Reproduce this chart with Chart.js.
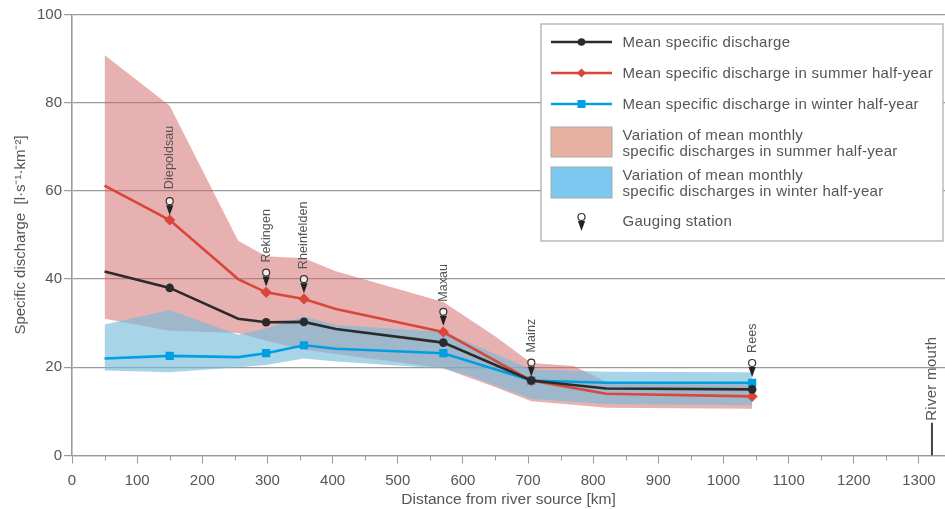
<!DOCTYPE html>
<html><head><meta charset="utf-8">
<style>html,body{margin:0;padding:0;background:#fff}#w{width:945px;height:509px;position:relative}</style>
<script src="https://cdn.jsdelivr.net/npm/chart.js@4"></script>
</head><body><div id="w"><canvas id="c" width="945" height="509"></canvas></div>
<script>
const seriesKm   = [50,150,255,298,356,405,570,705,820,1044];
const meanQ      = [41.7,38,31,30.2,30.3,28.7,25.6,17,15.2,15];
const summerQ    = [61.2,53.4,40,37,35.5,33.2,28,17,14,13.4];
const winterQ    = [22,22.6,22.3,23.2,25,24.2,23.2,17,16.5,16.5];
const summerKm   = [50,150,255,298,356,405,570,650,705,770,820,1044];
const summerHigh = [90.8,79.3,48.7,45.2,44.7,41.8,34.8,27,21,20.3,16.7,16.5];
const summerLow  = [31,28.3,27.8,26,24,23,19.8,15.5,12.3,11.5,10.8,10.6];
const winterKm   = [50,150,255,298,356,405,570,611,705,820,1044];
const winterHigh = [29.7,33,27.4,28.8,31.5,29.6,28,25.5,19.5,19,18.9];
const winterLow  = [19.3,18.9,20,20.5,22,21.3,19.7,18,12.8,11.7,11.4];
const stationNames = ['Diepoldsau','Rekingen','Rheinfelden','Maxau','Mainz','Rees'];
const stationKm    = [150,298,356,570,705,1044];
const stationTip   = [54.5,38.3,36.8,29.4,17.9,17.8];
const mouthKm = [1320,1320];
const mouthQ  = [0,7.4];
const minorTicks = [50,150,250,350,450,550,650,750,850,950,1050,1150,1250];
const legendLines = ['Mean specific discharge','Mean specific discharge in summer half-year','Mean specific discharge in winter half-year'];
const legendBands = [['Variation of mean monthly','specific discharges in summer half-year'],['Variation of mean monthly','specific discharges in winter half-year']];
const legendStation = 'Gauging station';

const FONT = '"Liberation Sans", Arial, sans-serif';
const TXT = '#555555', GRID='#9a9a9a';
const BLACK='#2b2b2b', RED='#d9473a', BLUE='#009fe3';
const zip=(a,b)=>a.map((x,i)=>({x,y:b[i]}));
const atStations=r=>ctx=>stationKm.includes(ctx.raw&&ctx.raw.x)?r:0;
function band(data,fill,order){return{data,fill,borderWidth:0,pointRadius:0,order}}
function line(data,color,style,r,order){return{data,borderColor:color,backgroundColor:color,borderWidth:2.6,pointStyle:style,pointRadius:atStations(r),pointBorderWidth:0,fill:false,tension:0,order}}

function pin(ctx,x,tipY){
  const cy=tipY-14;
  ctx.save();
  ctx.fillStyle='#222';
  ctx.beginPath();ctx.moveTo(x-3.6,tipY-10);ctx.lineTo(x+3.6,tipY-10);ctx.lineTo(x,tipY);ctx.closePath();ctx.fill();
  ctx.beginPath();ctx.arc(x,cy,3.5,0,Math.PI*2);ctx.fillStyle='rgba(255,255,255,.75)';ctx.fill();
  ctx.lineWidth=1.2;ctx.strokeStyle='#333';ctx.stroke();
  ctx.restore();
}
function vtext(ctx,t,x,bottom,size,sp){
  ctx.save();ctx.translate(x,bottom);ctx.rotate(-Math.PI/2);
  ctx.font=size+'px '+FONT;ctx.letterSpacing=sp+'px';ctx.fillStyle=TXT;ctx.textAlign='left';ctx.textBaseline='middle';
  ctx.fillText(t,0,0);ctx.restore();
}
const overlay={id:'overlay',
 afterDatasetsDraw(chart){
  const {ctx,scales:{x,y}}=chart;
  ctx.save();
  ctx.strokeStyle=GRID;ctx.lineWidth=1;
  minorTicks.forEach(v=>{const p=Math.round(x.getPixelForValue(v))+.5;ctx.beginPath();ctx.moveTo(p,y.bottom);ctx.lineTo(p,y.bottom+5);ctx.stroke();});
  stationKm.forEach((k,i)=>{
    const px=x.getPixelForValue(k),py=y.getPixelForValue(stationTip[i]);
    pin(ctx,px,py);
    vtext(ctx,stationNames[i],px,py-(i==0?26:24),12.5,0.1);
  });
  vtext(ctx,'River mouth',x.getPixelForValue(mouthKm[0]),y.getPixelForValue(mouthQ[1])-2,15,0.3);
  // legend
  ctx.fillStyle='#fff';ctx.fillRect(541,24,402,217);
  ctx.strokeStyle='#b5b5b5';ctx.lineWidth=1.4;ctx.strokeRect(541,24,402,217);
  ctx.font='15px '+FONT;ctx.letterSpacing='0.3px';ctx.textBaseline='middle';ctx.textAlign='left';
  const rows=[42,73,104],cols=[BLACK,RED,BLUE];
  legendLines.forEach((t,i)=>{
    ctx.strokeStyle=cols[i];ctx.lineWidth=2.4;ctx.beginPath();ctx.moveTo(551,rows[i]);ctx.lineTo(612,rows[i]);ctx.stroke();
    ctx.fillStyle=cols[i];
    if(i==0){ctx.beginPath();ctx.arc(581.5,rows[i],3.8,0,7);ctx.fill();}
    if(i==1){ctx.beginPath();ctx.moveTo(581.5,rows[i]-4.6);ctx.lineTo(586.1,rows[i]);ctx.lineTo(581.5,rows[i]+4.6);ctx.lineTo(576.9,rows[i]);ctx.closePath();ctx.fill();}
    if(i==2){ctx.fillRect(577.5,rows[i]-4,8,8);}
    ctx.fillStyle=TXT;ctx.fillText(t,622.5,rows[i]+1);
  });
  const tops=[127,167],fills=['#e8b0a0','#7cc8f0'];
  legendBands.forEach((ls,i)=>{
    ctx.fillStyle=fills[i];ctx.fillRect(551,tops[i],61,i?31:30);
    ctx.strokeStyle='#a9a9a9';ctx.lineWidth=1;ctx.strokeRect(551,tops[i],61,i?31:30);
    ctx.fillStyle=TXT;
    ctx.fillText(ls[0],622.5,tops[i]+8.5);ctx.fillText(ls[1],622.5,tops[i]+25);
  });
  pin(ctx,581.5,231);
  ctx.fillStyle=TXT;ctx.fillText(legendStation,622.5,222);
  ctx.restore();
 }};

const ds=[
 band(zip(summerKm,summerHigh),'+1',20),
 band(zip(summerKm,summerLow),false,19),
 band(zip(winterKm,winterHigh),'+1',18),
 band(zip(winterKm,winterLow),false,17),
 line(zip(seriesKm,winterQ),BLUE,'rect',5.8,3),
 line(zip(seriesKm,summerQ),RED,'rectRot',5.6,2),
 line(zip(seriesKm,meanQ),BLACK,'circle',4.3,1),
 {data:zip(mouthKm,mouthQ),borderColor:'#444',borderWidth:2,pointRadius:0,order:0}
];
ds[0].backgroundColor='rgba(210,100,100,.5)';
ds[2].backgroundColor='rgba(117,187,219,.63)';

new Chart(document.getElementById('c'),{
 type:'line',
 data:{datasets:ds},
 plugins:[overlay],
 options:{
  responsive:false,animation:false,
  layout:{autoPadding:false,padding:{top:14.5,right:0,left:0,bottom:0}},
  plugins:{legend:{display:false},tooltip:{enabled:false}},
  scales:{
   x:{type:'linear',min:0,max:1340,
     afterFit(s){s.height=53.5},
     ticks:{stepSize:100,includeBounds:false,maxRotation:0,autoSkip:false,color:TXT,padding:8,font:{family:FONT,size:15},callback:v=>String(v)},
     border:{color:GRID,width:1.2},
     grid:{drawOnChartArea:false,drawTicks:true,tickLength:8,color:GRID},
     title:{display:true,text:'Distance from river source [km]',color:TXT,font:{family:FONT,size:15.5},padding:{top:2,bottom:0}}},
   y:{min:0,max:100,
     afterFit(s){s.width=72},
     ticks:{stepSize:20,color:TXT,padding:2,font:{family:FONT,size:15}},
     border:{color:GRID,width:1.6},
     grid:{color:GRID,lineWidth:1.2,tickLength:8},
     title:{display:true,text:'Specific discharge  [l·s⁻¹·km⁻²]',color:TXT,font:{family:FONT,size:15},padding:{top:12,bottom:0}}}
  }
 }
});
</script></body></html>
